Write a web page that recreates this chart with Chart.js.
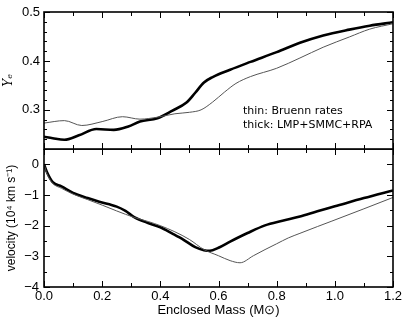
<!DOCTYPE html>
<html lang="en">
<head>
<meta charset="UTF-8">
<script src="https://cdn.jsdelivr.net/npm/chart.js"></script>
<title>Ye and velocity profiles</title>
<style>
    body { margin: 0; background: #fff; }
    #wrap { position: relative; width: 402px; height: 317px; }
    #wrap canvas { position: absolute; left: 0; }
    #topChart { top: 0; }
    #botChart { top: 149px; }
    .note { position: absolute; left: 243px; font: 11px "DejaVu Sans"; line-height: 14px; color: #000; white-space: nowrap; }
</style>
</head>
<body>
<div id="wrap">
    <canvas id="topChart" width="402" height="150"></canvas>
    <canvas id="botChart" width="402" height="168"></canvas>
    <div class="note" style="top:104px">thin: Bruenn rates</div>
    <div class="note" style="top:118px">thick: LMP+SMMC+RPA</div>
</div>
<script>
// enclosed mass ticks
var xMajor = [0.0, 0.2, 0.4, 0.6, 0.8, 1.0, 1.2];
var xMinor = [0.1, 0.3, 0.5, 0.7, 0.9, 1.1];
var yeMajor = [0.3, 0.4, 0.5];
var yeMinor = [0.22, 0.24, 0.26, 0.28, 0.32, 0.34, 0.36, 0.38, 0.42, 0.44, 0.46, 0.48];
var velMajor = [-4, -3, -2, -1, 0];
var velMinor = [-3.5, -2.5, -1.5, -0.5, 0.5];

// Ye, thick (LMP+SMMC+RPA)
var yeThickM = [0.00, 0.03, 0.07, 0.12, 0.18, 0.24, 0.29, 0.33, 0.39, 0.44, 0.49, 0.52, 0.55, 0.58, 0.64, 0.71, 0.80, 0.88, 0.96, 1.05, 1.12, 1.20];
var yeThick  = [0.245, 0.242, 0.239, 0.248, 0.261, 0.259, 0.266, 0.276, 0.283, 0.298, 0.315, 0.335, 0.356, 0.367, 0.382, 0.398, 0.418, 0.437, 0.452, 0.464, 0.472, 0.479];
// Ye, thin (Bruenn)
var yeThinM = [0.00, 0.07, 0.13, 0.20, 0.27, 0.33, 0.39, 0.45, 0.50, 0.54, 0.58, 0.62, 0.66, 0.71, 0.80, 0.88, 0.96, 1.05, 1.12, 1.20];
var yeThin  = [0.273, 0.278, 0.268, 0.276, 0.286, 0.281, 0.285, 0.292, 0.295, 0.300, 0.316, 0.336, 0.354, 0.368, 0.385, 0.406, 0.428, 0.449, 0.465, 0.476];

// velocity, thick
var velThickM = [0.00, 0.01, 0.03, 0.06, 0.10, 0.15, 0.19, 0.25, 0.28, 0.31, 0.36, 0.40, 0.44, 0.48, 0.52, 0.55, 0.57, 0.60, 0.64, 0.70, 0.76, 0.82, 0.88, 0.94, 1.00, 1.10, 1.20];
var velThick  = [0.00, -0.25, -0.58, -0.72, -0.93, -1.10, -1.22, -1.38, -1.52, -1.72, -1.92, -2.05, -2.25, -2.46, -2.70, -2.80, -2.82, -2.72, -2.52, -2.24, -1.99, -1.84, -1.70, -1.53, -1.37, -1.10, -0.85];
// velocity, thin
var velThinM = [0.00, 0.01, 0.03, 0.06, 0.10, 0.15, 0.20, 0.25, 0.31, 0.36, 0.40, 0.45, 0.50, 0.55, 0.60, 0.64, 0.674, 0.72, 0.76, 0.80, 0.84, 0.88, 0.94, 0.99, 1.10, 1.20];
var velThin  = [0.00, -0.30, -0.62, -0.78, -0.97, -1.15, -1.33, -1.52, -1.73, -1.87, -2.00, -2.20, -2.45, -2.78, -2.98, -3.14, -3.21, -2.98, -2.78, -2.59, -2.40, -2.25, -2.03, -1.85, -1.45, -1.08];

function pts(xs, ys) {
    return xs.map(function (x, i) { return { x: x, y: ys[i] }; });
}

function fmtVel(v) {
    return v < 0 ? '\u2212' + (-v) : String(v);
}

// kill the label overhang padding so the plot box sits where layout.padding says
function noPad(s) {
    s.paddingTop = 0; s.paddingBottom = 0; s.paddingLeft = 0; s.paddingRight = 0;
}

// frame + inward tick marks on all four sides
var framePlugin = {
    id: 'frame',
    afterDraw: function (chart, args, opts) {
        var ctx = chart.ctx, a = chart.chartArea;
        var xs = chart.scales.x, ys = chart.scales.y;
        ctx.save();
        ctx.strokeStyle = '#000';
        ctx.lineWidth = 1;
        ctx.beginPath();
        function xt(list, len) {
            list.forEach(function (v) {
                var px = Math.round(xs.getPixelForValue(v)) + 0.5;
                ctx.moveTo(px, a.bottom); ctx.lineTo(px, a.bottom - len);
                ctx.moveTo(px, a.top); ctx.lineTo(px, a.top + len);
            });
        }
        function yt(list, len) {
            list.forEach(function (v) {
                var py = Math.round(ys.getPixelForValue(v)) + 0.5;
                ctx.moveTo(a.left, py); ctx.lineTo(a.left + len, py);
                ctx.moveTo(a.right, py); ctx.lineTo(a.right - len, py);
            });
        }
        xt(xMajor, 6); xt(xMinor, 4);
        yt(opts.yMajor, 6); yt(opts.yMinor, 3);
        ctx.stroke();
        ctx.lineWidth = 1.6;
        ctx.strokeRect(a.left, a.top, a.right - a.left, a.bottom - a.top);
        ctx.restore();
    }
};

var thinStyle = { borderColor: '#555', borderWidth: 1, pointRadius: 0, cubicInterpolationMode: 'monotone', fill: false };
var thickStyle = { borderColor: '#000', borderWidth: 2.6, pointRadius: 0, cubicInterpolationMode: 'monotone', fill: false };

var tickFont = { family: 'Liberation Sans', size: 13 };

new Chart(document.getElementById('topChart'), {
    type: 'line',
    data: {
        datasets: [
            Object.assign({ label: 'thin: Bruenn rates', data: pts(yeThinM, yeThin) }, thinStyle),
            Object.assign({ label: 'thick: LMP+SMMC+RPA', data: pts(yeThickM, yeThick) }, thickStyle)
        ]
    },
    options: {
        responsive: false,
        animation: false,
        layout: { padding: { top: 12, right: 9, bottom: 1, left: 0 } },
        plugins: {
            legend: { display: false },
            tooltip: { enabled: false },
            frame: { yMajor: yeMajor, yMinor: yeMinor }
        },
        scales: {
            x: { type: 'linear', min: 0, max: 1.2, display: false },
            y: {
                min: 0.22, max: 0.5,
                afterFit: function (s) { s.width = 44; noPad(s); },
                afterBuildTicks: function (s) { s.ticks = yeMajor.map(function (v) { return { value: v }; }); },
                grid: { display: false, drawTicks: false },
                border: { display: false },
                ticks: { color: '#000', font: tickFont, padding: 4, callback: function (v) { return v.toFixed(1); } },
                title: { display: true, text: 'Y\u2091', color: '#000', font: { family: 'DejaVu Serif', style: 'italic', size: 12 }, padding: { top: 2, bottom: 0 } }
            }
        }
    },
    plugins: [framePlugin]
});

new Chart(document.getElementById('botChart'), {
    type: 'line',
    data: {
        datasets: [
            Object.assign({ label: 'thin: Bruenn rates', data: pts(velThinM, velThin) }, thinStyle),
            Object.assign({ label: 'thick: LMP+SMMC+RPA', data: pts(velThickM, velThick) }, thickStyle)
        ]
    },
    options: {
        responsive: false,
        animation: false,
        layout: { padding: { top: 0, right: 9, bottom: 0, left: 0 } },
        plugins: {
            legend: { display: false },
            tooltip: { enabled: false },
            frame: { yMajor: velMajor, yMinor: velMinor }
        },
        scales: {
            x: {
                type: 'linear', min: 0, max: 1.2,
                afterFit: function (s) { s.height = 30; noPad(s); },
                afterBuildTicks: function (s) { s.ticks = xMajor.map(function (v) { return { value: v }; }); },
                grid: { display: false, drawTicks: false },
                border: { display: false },
                ticks: { color: '#000', font: tickFont, padding: 2, maxRotation: 0, callback: function (v) { return v.toFixed(1); } },
                title: { display: true, text: 'Enclosed Mass (M\u2299)', color: '#000', font: { family: 'Liberation Sans', size: 13, lineHeight: 1 }, padding: { top: 0, bottom: 0 } }
            },
            y: {
                min: -4, max: 0.5,
                afterFit: function (s) { s.width = 44; noPad(s); },
                afterBuildTicks: function (s) { s.ticks = velMajor.map(function (v) { return { value: v }; }); },
                grid: { display: false, drawTicks: false },
                border: { display: false },
                ticks: { color: '#000', font: tickFont, padding: 5, callback: fmtVel },
                title: { display: true, text: 'velocity (10\u2074 km s\u207B\u00B9)', color: '#000', font: { family: 'Liberation Sans', size: 12 }, padding: { top: 4, bottom: 0 } }
            }
        }
    },
    plugins: [framePlugin]
});
</script>
</body>
</html>
